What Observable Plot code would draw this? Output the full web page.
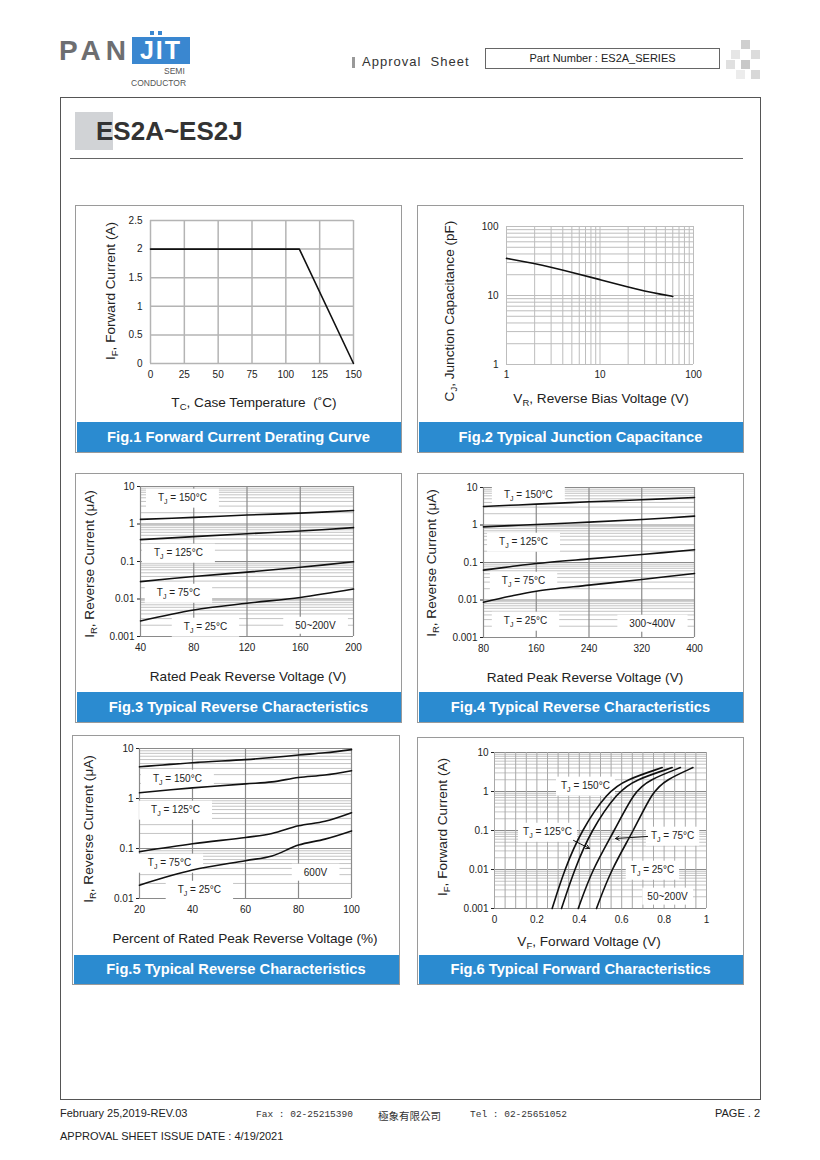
<!DOCTYPE html>
<html><head><meta charset="utf-8">
<script src="https://cdn.jsdelivr.net/npm/d3@7"></script>
<script src="https://cdn.jsdelivr.net/npm/@observablehq/plot@0.6"></script>
<style>
body{margin:0;background:#fff;font-family:"Liberation Sans",Arial,sans-serif;color:#222;}
#page{position:relative;width:820px;height:1160px;overflow:hidden;background:#fff;}
sub{font-size:9.5px;vertical-align:-3px;line-height:0;}
</style></head>
<body><div id="page"></div>
<script>
// ---------- DATA ----------
// Fig.1 Forward current derating
const fig1Temp = [0, 110, 150];
const fig1Current = [2, 2, 0];
const fig1XTicks = [0, 25, 50, 75, 100, 125, 150];
const fig1YTicks = [0, 0.5, 1, 1.5, 2, 2.5];

// Fig.2 Junction capacitance
const fig2Voltage = [1, 2, 3, 5, 10, 20, 30, 45, 60];
const fig2Cap = [34.5, 29, 25.7, 21.7, 17, 13.2, 11.6, 10.4, 9.7];
const fig2Ticks = [1, 10, 100];

// Fig.3 Reverse characteristics 50~200V
const fig3Volt = [40, 80, 120, 160, 200];
const fig3T150 = [1.33, 1.5, 1.73, 1.95, 2.3];
const fig3T125 = [0.384, 0.46, 0.55, 0.65, 0.8];
const fig3T75 = [0.029, 0.04, 0.052, 0.07, 0.098];
const fig3T25 = [0.0026, 0.0051, 0.0077, 0.011, 0.0184];
const fig3XTicks = [40, 80, 120, 160, 200];
const fig3Labels = ["T_J = 150°C", "T_J = 125°C", "T_J = 75°C", "T_J = 25°C", "50~200V"];
const fig3LabelX = [71.5, 68.5, 68.5, 88.8, 171.4];
const fig3LabelY = [5.1, 0.174, 0.0149, 0.00185, 0.00196];

// Fig.4 Reverse characteristics 300~400V
const fig4Volt = [80, 120, 160, 240, 320, 400];
const fig4T150 = [3.1, 3.35, 3.6, 4.15, 4.7, 5.4];
const fig4T125 = [0.89, 0.96, 1.03, 1.19, 1.4, 1.72];
const fig4T75 = [0.0625, 0.077, 0.094, 0.125, 0.163, 0.218];
const fig4T25 = [0.0087, 0.0126, 0.0172, 0.0249, 0.0352, 0.051];
const fig4XTicks = [80, 160, 240, 320, 400];
const fig4Labels = ["T_J = 150°C", "T_J = 125°C", "T_J = 75°C", "T_J = 25°C", "300~400V"];
const fig4LabelX = [148, 140.7, 140.7, 143.7, 336];
const fig4LabelY = [6.5, 0.363, 0.033, 0.00284, 0.00236];

// Fig.5 Reverse characteristics 600V
const fig5Pct = [20, 40, 60, 70, 80, 90, 100];
const fig5T150 = [4.3, 5.2, 6.0, 6.6, 7.4, 8.2, 9.5];
const fig5T125 = [1.3, 1.63, 1.96, 2.15, 2.63, 2.95, 3.6];
const fig5T75 = [0.086, 0.124, 0.166, 0.2, 0.284, 0.35, 0.52];
const fig5T25 = [0.0185, 0.037, 0.057, 0.071, 0.117, 0.154, 0.225];
const fig5XTicks = [20, 40, 60, 80, 100];
const fig5Labels = ["T_J = 150°C", "T_J = 125°C", "T_J = 75°C", "T_J = 25°C", "600V"];
const fig5LabelX = [34.3, 33.6, 31.3, 42.6, 86.4];
const fig5LabelY = [2.51, 0.603, 0.0525, 0.0151, 0.0331];

// Fig.6 Forward characteristics
const fig6Current = [0.001, 0.01, 0.1, 1, 2, 4.1];
const fig6T150 = [0.272, 0.33, 0.409, 0.535, 0.62, 0.791];
const fig6T125 = [0.316, 0.377, 0.455, 0.582, 0.665, 0.838];
const fig6T75 = [0.395, 0.461, 0.566, 0.66, 0.73, 0.877];
const fig6T25 = [0.481, 0.55, 0.657, 0.745, 0.81, 0.936];
const fig6XTicks = [0, 0.2, 0.4, 0.6, 0.8, 1];
const fig6Labels = ["T_J = 150°C", "T_J = 125°C", "T_J = 75°C", "T_J = 25°C", "50~200V"];
const fig6LabelX = [0.429, 0.25, 0.84, 0.745, 0.816];
const fig6LabelY = [1.43, 0.094, 0.0745, 0.01, 0.00204];
const fig6ArrowX1 = [0.373, 0.722];
const fig6ArrowY1 = [0.0555, 0.0702];
const fig6ArrowX2 = [0.448, 0.571];
const fig6ArrowY2 = [0.0347, 0.0624];

const captions = ["Fig.1 Forward Current Derating Curve", "Fig.2 Typical Junction Capacitance",
  "Fig.3 Typical Reverse Characteristics", "Fig.4 Typical Reverse Characteristics",
  "Fig.5 Typical Reverse Characteristics", "Fig.6 Typical Forward Characteristics"];

// ---------- LAYOUT HELPERS ----------
const NS = "http://www.w3.org/2000/svg";
const page = document.getElementById("page");
function el(css, html) {
  const e = document.createElement("div");
  e.style.cssText = "position:absolute;white-space:nowrap;" + css;
  if (html != null) e.innerHTML = html;
  page.appendChild(e);
  return e;
}
function title(html, cx, cy, rot) {
  el(`left:${cx}px;top:${cy}px;font-size:13.6px;color:#222;transform:translate(-50%,-50%)${rot ? " rotate(-90deg)" : ""};`, html);
}
const fmt = d => String(d);
function decades(lo, hi) { const out = []; for (let d = lo; d <= hi * 1.0001; d *= 10) out.push(+d.toPrecision(3)); return out; }
function minors(lo, hi) { const out = []; for (let d = lo; d < hi * 0.999; d *= 10) for (let k = 2; k < 10; k++) out.push(+(k * d).toPrecision(3)); return out; }
function series(xs, ys) { return xs.map((x, i) => ({x, y: ys[i]})); }
function labelRows(t, xs, ys) { return t.map((s, i) => ({s, x: xs[i], y: ys[i]})); }

const panels = [
  {box: [75, 205, 327, 248], band: 422, plot: [150, 220, 353, 363]},
  {box: [417, 205, 327, 248], band: 422, plot: [506, 226, 693, 364]},
  {box: [75, 473, 327, 250], band: 692, plot: [140, 486, 353, 636]},
  {box: [417, 473, 327, 250], band: 692, plot: [483, 487, 694, 637]},
  {box: [72, 735, 328, 250], band: 955, plot: [139, 748, 351, 898]},
  {box: [417, 737, 327, 248], band: 955, plot: [494, 752, 706, 908]}
];

function decorate(svg, padX, padY) {
  svg.querySelectorAll('g[aria-label="text"] text').forEach(t => {
    const s = t.textContent;
    const m = s.match(/^(.*?)_(\w)(.*)$/);
    if (m) {
      t.textContent = m[1];
      const sub = document.createElementNS(NS, "tspan");
      sub.setAttribute("font-size", "7"); sub.setAttribute("dy", "3"); sub.textContent = m[2];
      const rest = document.createElementNS(NS, "tspan");
      rest.setAttribute("dy", "-3"); rest.textContent = m[3];
      t.appendChild(sub); t.appendChild(rest);
    }
    const bb = t.getBBox();
    const r = document.createElementNS(NS, "rect");
    r.setAttribute("x", bb.x - padX); r.setAttribute("y", bb.y - padY);
    r.setAttribute("width", bb.width + 2 * padX); r.setAttribute("height", bb.height + 2 * padY);
    r.setAttribute("fill", "#fff");
    if (t.getAttribute("transform")) r.setAttribute("transform", t.getAttribute("transform"));
    t.parentNode.insertBefore(r, t);
  });
}

function panel(i, xOpt, yOpt, marks, pad) {
  const p = panels[i];
  const [bx, by, bw, bh] = p.box;
  const [x0, y0, x1, y1] = p.plot;
  el(`left:${bx}px;top:${by}px;width:${bw}px;height:${bh}px;border:1.5px solid #9a9a9a;box-sizing:border-box;`);
  const H = p.band - by;
  const svg = Plot.plot({
    width: bw, height: H,
    marginLeft: x0 - bx, marginRight: bx + bw - x1, marginTop: y0 - by, marginBottom: by + H - y1,
    x: xOpt, y: yOpt,
    style: {fontFamily: "'Liberation Sans', Arial, sans-serif", fontSize: "10px", color: "#222", background: "transparent", overflow: "visible"},
    marks
  });
  svg.style.position = "absolute"; svg.style.left = bx + "px"; svg.style.top = by + "px";
  page.appendChild(svg);
  decorate(svg, pad ? pad[0] : 12, pad ? pad[1] : 3);
  el(`left:${bx + 1.5}px;top:${p.band}px;width:${bw - 3}px;height:${by + bh - p.band - 1.5}px;background:#2b8bd0;color:#fff;font-weight:bold;font-size:14.7px;display:flex;align-items:center;justify-content:center;`, captions[i]);
}

// ---------- HEADER ----------
el("left:59px;top:35px;font-size:28px;font-weight:bold;letter-spacing:5px;color:#6d6e71;", "PAN");
el("left:132px;top:37px;width:58px;height:27px;background:#3a87d0;color:#fff;font-weight:bold;font-size:25px;line-height:27px;text-align:center;letter-spacing:2px;", "JIT");
el("left:150px;top:31px;width:4px;height:4px;background:#3a87d0;");
el("left:158px;top:31px;width:4px;height:4px;background:#3a87d0;");
el("left:164px;top:66px;font-size:8.5px;color:#555;", "SEMI");
el("left:131px;top:78px;font-size:8.5px;color:#555;", "CONDUCTOR");
el("left:352px;top:57px;width:3px;height:11px;background:#999;");
el("left:362px;top:54px;font-size:13px;letter-spacing:1px;color:#333;", "Approval&nbsp; Sheet");
el("left:485px;top:48px;width:235px;height:21px;border:1px solid #666;box-sizing:border-box;font-size:11px;line-height:19px;text-align:center;color:#222;", "Part Number : ES2A_SERIES");
[[741,40,"#cfcfcf"],[731,50,"#e6e6e6"],[751,50,"#dcdcdc"],[726,60,"#e0e0e0"],[741,60,"#c8c8c8"],[751,70,"#d8d8d8"],[736,70,"#ececec"]]
  .forEach(([x,y,c]) => el(`left:${x}px;top:${y}px;width:9px;height:9px;background:${c};`));

// outer frame & title
el("left:60px;top:97px;width:701px;height:1003px;border:1.5px solid #555;box-sizing:border-box;");
el("left:75px;top:112px;width:38px;height:38px;background:#d1d3d6;");
el("left:96px;top:116px;font-size:26px;font-weight:bold;color:#333;", "ES2A~ES2J");
el("left:70px;top:158px;width:673px;height:1px;background:#666;");

// ---------- FIG 1 ----------
panel(0,
  {domain: [0, 150], ticks: fig1XTicks, tickFormat: fmt, tickSize: 0, tickPadding: 7, label: null},
  {domain: [0, 2.5], ticks: fig1YTicks, tickFormat: fmt, tickSize: 0, tickPadding: 8, label: null},
  [
    Plot.ruleX(fig1XTicks, {stroke: "#b4b4b4", strokeWidth: 1.5}),
    Plot.ruleY(fig1YTicks, {stroke: "#b4b4b4", strokeWidth: 1.5}),
    Plot.line(series(fig1Temp, fig1Current), {x: "x", y: "y", stroke: "#111", strokeWidth: 1.6})
  ]);
title("I<sub>F</sub>, Forward Current (A)", 110, 291, true);
title("T<sub>C</sub>, Case Temperature&nbsp; (˚C)", 254, 402, false);

// ---------- FIG 2 ----------
panel(1,
  {type: "log", domain: [1, 100], ticks: fig2Ticks, tickFormat: fmt, tickSize: 0, tickPadding: 6, label: null},
  {type: "log", domain: [1, 100], ticks: fig2Ticks, tickFormat: fmt, tickSize: 0, tickPadding: 8, label: null},
  [
    Plot.ruleX(minors(1, 100).concat(decades(1, 100)), {stroke: "#bdbdbd", strokeWidth: 1}),
    Plot.ruleY(minors(1, 100).concat(decades(1, 100)), {stroke: "#bdbdbd", strokeWidth: 1}),
    Plot.line(series(fig2Voltage, fig2Cap), {x: "x", y: "y", stroke: "#111", strokeWidth: 1.6, curve: "basis"})
  ]);
title("C<sub>J</sub>, Junction Capacitance (pF)", 449, 311, true);
title("V<sub>R</sub>, Reverse Bias Voltage (V)", 601, 398, false);

// ---------- reverse chart builder ----------
function reverse(i, xs, curves, xTicks, xDom, yDom, labels) {
  const yMin = minors(yDom[0], yDom[1]);
  const yDec = decades(yDom[0], yDom[1]);
  panel(i,
    {domain: xDom, ticks: xTicks, tickFormat: fmt, tickSize: 0, tickPadding: 7, label: null},
    {type: "log", domain: yDom, ticks: yDec, tickFormat: fmt, tickSize: 3, tickPadding: 3, label: null},
    [
      Plot.ruleY(yMin, {stroke: "#c4c4c4", strokeWidth: 1}),
      Plot.ruleY(yDec, {stroke: "#8a8a8a", strokeWidth: 1}),
      Plot.ruleX(xTicks, {stroke: "#8a8a8a", strokeWidth: 1.2}),
      Plot.text(labels, {x: "x", y: "y", text: "s", fill: "#222", fontSize: 10}),
      ...curves.map(c => Plot.line(series(xs, c), {x: "x", y: "y", stroke: "#111", strokeWidth: 1.6, curve: "catmull-rom"}))
    ]);
}

reverse(2, fig3Volt, [fig3T150, fig3T125, fig3T75, fig3T25], fig3XTicks, [40, 200], [0.001, 10], labelRows(fig3Labels, fig3LabelX, fig3LabelY));
title("I<sub>R</sub>, Reverse Current (μA)", 89, 564, true);
title("Rated Peak Reverse Voltage (V)", 248, 676, false);

reverse(3, fig4Volt, [fig4T150, fig4T125, fig4T75, fig4T25], fig4XTicks, [80, 400], [0.001, 10], labelRows(fig4Labels, fig4LabelX, fig4LabelY));
title("I<sub>R</sub>, Reverse Current (μA)", 431, 563, true);
title("Rated Peak Reverse Voltage (V)", 585, 677, false);

reverse(4, fig5Pct, [fig5T150, fig5T125, fig5T75, fig5T25], fig5XTicks, [20, 100], [0.01, 10], labelRows(fig5Labels, fig5LabelX, fig5LabelY));
title("I<sub>R</sub>, Reverse Current (μA)", 88, 829, true);
title("Percent of Rated Peak Reverse Voltage (%)", 245, 938, false);

// ---------- FIG 6 ----------
{
  const yMin = minors(0.001, 10), yDec = decades(0.001, 10);
  const xGrid = d3.range(0, 21).map(k => k / 20);
  const arrows = fig6ArrowX1.map((x1, i) => ({x1, y1: fig6ArrowY1[i], x2: fig6ArrowX2[i], y2: fig6ArrowY2[i]}));
  const curves = [fig6T150, fig6T125, fig6T75, fig6T25];
  panel(5,
    {domain: [0, 1], ticks: fig6XTicks, tickFormat: fmt, tickSize: 0, tickPadding: 7, label: null},
    {type: "log", domain: [0.001, 10], ticks: yDec, tickFormat: fmt, tickSize: 3, tickPadding: 3, label: null},
    [
      Plot.ruleY(yMin, {stroke: "#c4c4c4", strokeWidth: 1}),
      Plot.ruleY(yDec, {stroke: "#8a8a8a", strokeWidth: 1}),
      Plot.ruleX(xGrid, {stroke: "#a8a8a8", strokeWidth: 1}),
      Plot.text(labelRows(fig6Labels, fig6LabelX, fig6LabelY), {x: "x", y: "y", text: "s", fill: "#222", fontSize: 10}),
      ...curves.map(c => Plot.line(series(c, fig6Current), {x: "x", y: "y", stroke: "#111", strokeWidth: 1.6, curve: "basis"})),
      Plot.arrow(arrows, {x1: "x1", y1: "y1", x2: "x2", y2: "y2", stroke: "#111", strokeWidth: 1, headLength: 6})
    ], [5, 3]);
  title("I<sub>F</sub>, Forward Current (A)", 442, 827, true);
  title("V<sub>F</sub>, Forward Voltage (V)", 589, 941, false);
}

// ---------- FOOTER ----------
el("left:60px;top:1107px;font-size:11px;color:#222;", "February 25,2019-REV.03");
el("left:256px;top:1109px;font-size:9.5px;font-family:'Liberation Mono',monospace;color:#333;", "Fax : 02-25215390");
el("left:378px;top:1108px;font-size:10.5px;font-family:'Noto Sans CJK TC',sans-serif;color:#333;", "極象有限公司");
el("left:470px;top:1109px;font-size:9.5px;font-family:'Liberation Mono',monospace;color:#333;", "Tel : 02-25651052");
el("left:715px;top:1107px;font-size:11px;color:#222;", "PAGE . 2");
el("left:60px;top:1130px;font-size:11px;color:#222;", "APPROVAL SHEET ISSUE DATE : 4/19/2021");
</script>
</body></html>
